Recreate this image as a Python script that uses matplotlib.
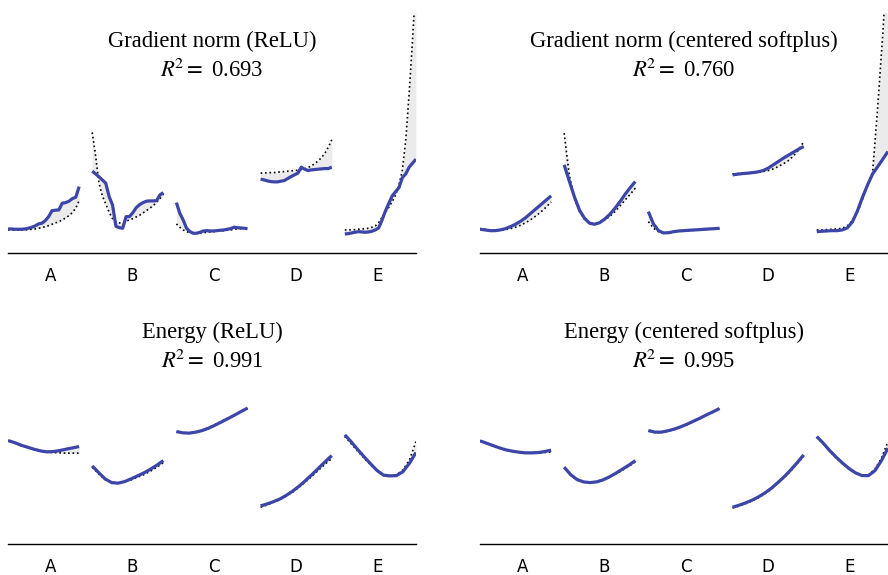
import numpy as np
import matplotlib
matplotlib.use('Agg')
import matplotlib.pyplot as plt

plt.rcParams['mathtext.fontset'] = 'stix'

# etiquetas de los segmentos
categorias = ['A', 'B', 'C', 'D', 'E']
tick_pos = [0.5, 1.47, 2.45, 3.42, 4.39]

# Gradient norm (ReLU): ajuste (azul) y objetivo (punteado), un bloque por segmento
grad_relu_fit = [
    [2.43, 2.43, 2.40, 2.40, 2.40, 2.43, 2.50, 2.60, 2.73, 2.93, 3.00, 3.26, 3.66, 4.26, 4.30, 4.33, 5.00, 5.06, 5.20, 5.46, 5.60, 6.66],
    [8.20, 7.93, 7.63, 7.33, 7.00, 5.66, 4.83, 2.70, 2.56, 2.50, 3.66, 3.66, 4.06, 4.56, 4.86, 5.06, 5.20, 5.23, 5.23, 5.26, 5.83, 6.06],
    [5.06, 4.00, 3.33, 2.50, 2.16, 2.00, 2.00, 2.10, 2.23, 2.26, 2.23, 2.23, 2.26, 2.30, 2.33, 2.40, 2.46, 2.60, 2.56, 2.53, 2.50, 2.46],
    [7.40, 7.33, 7.23, 7.16, 7.13, 7.13, 7.20, 7.26, 7.46, 7.66, 7.83, 8.00, 8.60, 8.40, 8.26, 8.33, 8.36, 8.40, 8.43, 8.46, 8.46, 8.60],
    [1.93, 1.96, 2.03, 2.10, 2.16, 2.13, 2.10, 2.13, 2.20, 2.33, 2.53, 3.33, 4.23, 5.00, 5.73, 6.16, 6.56, 7.56, 7.93, 8.60, 9.00, 9.40],
]
grad_relu_target = [
    [2.33, 2.33, 2.33, 2.33, 2.33, 2.33, 2.36, 2.40, 2.43, 2.50, 2.56, 2.66, 2.76, 2.90, 3.03, 3.16, 3.33, 3.53, 3.76, 4.06, 4.50, 5.26],
    [12.07, 9.76, 7.00, 5.73, 4.93, 4.10, 3.46, 3.13, 3.03, 3.06, 3.20, 3.33, 3.46, 3.63, 3.80, 4.03, 4.26, 4.50, 4.76, 5.10, 5.46, 5.93],
    [2.93, 2.60, 2.33, 2.16, 2.06, 2.00, 2.00, 2.03, 2.06, 2.10, 2.13, 2.16, 2.20, 2.23, 2.26, 2.30, 2.33, 2.40, 2.43, 2.46, 2.50, 2.53],
    [8.00, 8.03, 8.03, 8.06, 8.06, 8.10, 8.13, 8.16, 8.20, 8.23, 8.26, 8.30, 8.36, 8.43, 8.56, 8.73, 8.96, 9.23, 9.56, 10.00, 10.60, 11.33],
    [2.33, 2.33, 2.36, 2.36, 2.40, 2.43, 2.46, 2.50, 2.60, 2.73, 3.06, 3.60, 4.10, 4.60, 5.16, 5.83, 6.83, 8.33, 11.33, 16.00, 21.33, 27.30],
]

# Gradient norm (centered softplus)
grad_soft_fit = [
    [2.40, 2.33, 2.26, 2.26, 2.33, 2.46, 2.66, 2.90, 3.20, 3.56, 4.00, 4.43, 4.86, 5.30, 5.73],
    [8.83, 7.23, 5.66, 4.33, 3.50, 3.00, 2.90, 3.06, 3.43, 3.90, 4.50, 5.16, 5.90, 6.56, 7.16],
    [4.16, 2.93, 2.26, 2.03, 2.06, 2.16, 2.23, 2.26, 2.30, 2.33, 2.36, 2.40, 2.43, 2.46, 2.50],
    [7.83, 7.90, 7.96, 8.00, 8.06, 8.13, 8.26, 8.50, 8.83, 9.16, 9.50, 9.80, 10.10, 10.40, 10.66],
    [2.16, 2.20, 2.23, 2.26, 2.26, 2.33, 2.53, 3.13, 4.23, 5.60, 6.83, 7.93, 8.66, 9.40, 10.16],
]
grad_soft_target = [
    [2.46, 2.40, 2.33, 2.30, 2.30, 2.36, 2.46, 2.60, 2.80, 3.06, 3.36, 3.73, 4.13, 4.60, 5.13],
    [12.00, 7.83, 5.50, 4.16, 3.40, 3.00, 2.93, 3.06, 3.33, 3.70, 4.16, 4.73, 5.33, 5.90, 6.50],
    [3.16, 2.50, 2.16, 2.03, 2.06, 2.13, 2.20, 2.23, 2.26, 2.30, 2.33, 2.36, 2.40, 2.43, 2.46],
    [7.93, 7.96, 8.00, 8.03, 8.06, 8.10, 8.16, 8.26, 8.43, 8.66, 8.93, 9.26, 9.73, 10.33, 11.16],
    [2.33, 2.33, 2.36, 2.40, 2.43, 2.50, 2.73, 3.26, 4.06, 5.40, 6.83, 8.16, 14.66, 22.00, 30.30],
]

# Energy (ReLU)
energy_relu_fit = [
    [10.36, 10.16, 9.90, 9.70, 9.50, 9.33, 9.23, 9.26, 9.36, 9.50, 9.63, 9.76],
    [7.83, 7.16, 6.53, 6.16, 6.10, 6.26, 6.53, 6.83, 7.13, 7.50, 7.90, 8.36],
    [11.26, 11.13, 11.10, 11.20, 11.36, 11.60, 11.90, 12.23, 12.56, 12.90, 13.26, 13.60],
    [3.83, 4.03, 4.26, 4.53, 4.90, 5.33, 5.83, 6.40, 7.00, 7.63, 8.26, 8.86],
    [10.93, 10.23, 9.46, 8.73, 8.03, 7.36, 6.90, 6.83, 6.86, 7.26, 8.10, 9.16],
]
energy_relu_target = [
    [10.33, 10.13, 9.86, 9.66, 9.46, 9.30, 9.20, 9.16, 9.13, 9.10, 9.10, 9.10],
    [7.70, 7.03, 6.46, 6.20, 6.13, 6.23, 6.43, 6.70, 6.96, 7.30, 7.70, 8.16],
    [11.20, 11.10, 11.10, 11.23, 11.43, 11.66, 11.96, 12.30, 12.60, 12.93, 13.26, 13.60],
    [3.70, 3.93, 4.20, 4.46, 4.83, 5.23, 5.73, 6.26, 6.83, 7.43, 8.03, 8.56],
    [10.76, 10.03, 9.30, 8.60, 7.93, 7.33, 6.90, 6.83, 6.93, 7.43, 8.43, 10.26],
]

# Energy (centered softplus)
energy_soft_fit = [
    [10.33, 10.10, 9.86, 9.63, 9.43, 9.30, 9.20, 9.13, 9.13, 9.16, 9.26, 9.40],
    [7.70, 6.96, 6.46, 6.23, 6.16, 6.23, 6.43, 6.73, 7.10, 7.50, 7.90, 8.36],
    [11.36, 11.20, 11.20, 11.33, 11.50, 11.73, 12.00, 12.30, 12.60, 12.93, 13.23, 13.56],
    [3.70, 3.90, 4.13, 4.40, 4.73, 5.13, 5.60, 6.16, 6.76, 7.43, 8.16, 8.93],
    [10.76, 10.10, 9.36, 8.70, 8.10, 7.56, 7.13, 6.86, 6.86, 7.36, 8.36, 9.60],
]
energy_soft_target = [
    [10.33, 10.10, 9.86, 9.63, 9.43, 9.30, 9.20, 9.13, 9.13, 9.13, 9.16, 9.23],
    [7.63, 6.90, 6.43, 6.23, 6.20, 6.26, 6.43, 6.70, 7.03, 7.40, 7.80, 8.23],
    [11.30, 11.16, 11.16, 11.30, 11.46, 11.70, 11.96, 12.26, 12.56, 12.90, 13.20, 13.53],
    [3.63, 3.83, 4.06, 4.33, 4.66, 5.06, 5.53, 6.10, 6.70, 7.33, 8.06, 8.80],
    [10.70, 10.03, 9.30, 8.63, 8.03, 7.50, 7.10, 6.86, 6.93, 7.50, 8.60, 10.26],
]

paneles = [
    ('Gradient norm (ReLU)', '0.693', grad_relu_fit, grad_relu_target),
    ('Gradient norm (centered softplus)', '0.760', grad_soft_fit, grad_soft_target),
    ('Energy (ReLU)', '0.991', energy_relu_fit, energy_relu_target),
    ('Energy (centered softplus)', '0.995', energy_soft_fit, energy_soft_target),
]

azul = '#3b46a8'
ancho_seg = 0.845

fig = plt.figure(figsize=(8.88, 5.75), dpi=100)
posiciones = [
    [0.009, 0.5595, 0.4595, 0.418],
    [0.5405, 0.5595, 0.4595, 0.418],
    [0.009, 0.0534, 0.4595, 0.418],
    [0.5405, 0.0534, 0.4595, 0.418],
]

for pos, (titulo, r2, ajuste, objetivo) in zip(posiciones, paneles):
    ax = fig.add_axes(pos)
    for i, (f, t) in enumerate(zip(ajuste, objetivo)):
        x = np.linspace(i, i + ancho_seg, len(f))
        ax.fill_between(x, f, t, color='#ebebeb', lw=0)
        ax.plot(x, t, ':', color='black', lw=1.2)
        ax.plot(x, f, '-', color=azul, lw=2.3, solid_capstyle='butt')
    ax.set_xlim(0, 4.846)
    ax.set_ylim(0, 24.0)
    for s in ['top', 'left', 'right']:
        ax.spines[s].set_visible(False)
    ax.spines['bottom'].set_linewidth(1.0)
    ax.set_yticks([])
    ax.set_xticks(tick_pos)
    ax.set_xticklabels(categorias, fontsize=12, family='DejaVu Sans')
    ax.tick_params(axis='x', length=0, pad=10)
    ax.text(0.5, 0.86, titulo, transform=ax.transAxes, ha='center', va='baseline',
            fontsize=16.3, family='Liberation Serif')
    ax.text(0.5, 0.735, r'$R^{\!2} =$ ' + r2, transform=ax.transAxes, ha='center',
            va='baseline', fontsize=16.3, family='Liberation Serif')

fig.savefig('out.png', dpi=100)
